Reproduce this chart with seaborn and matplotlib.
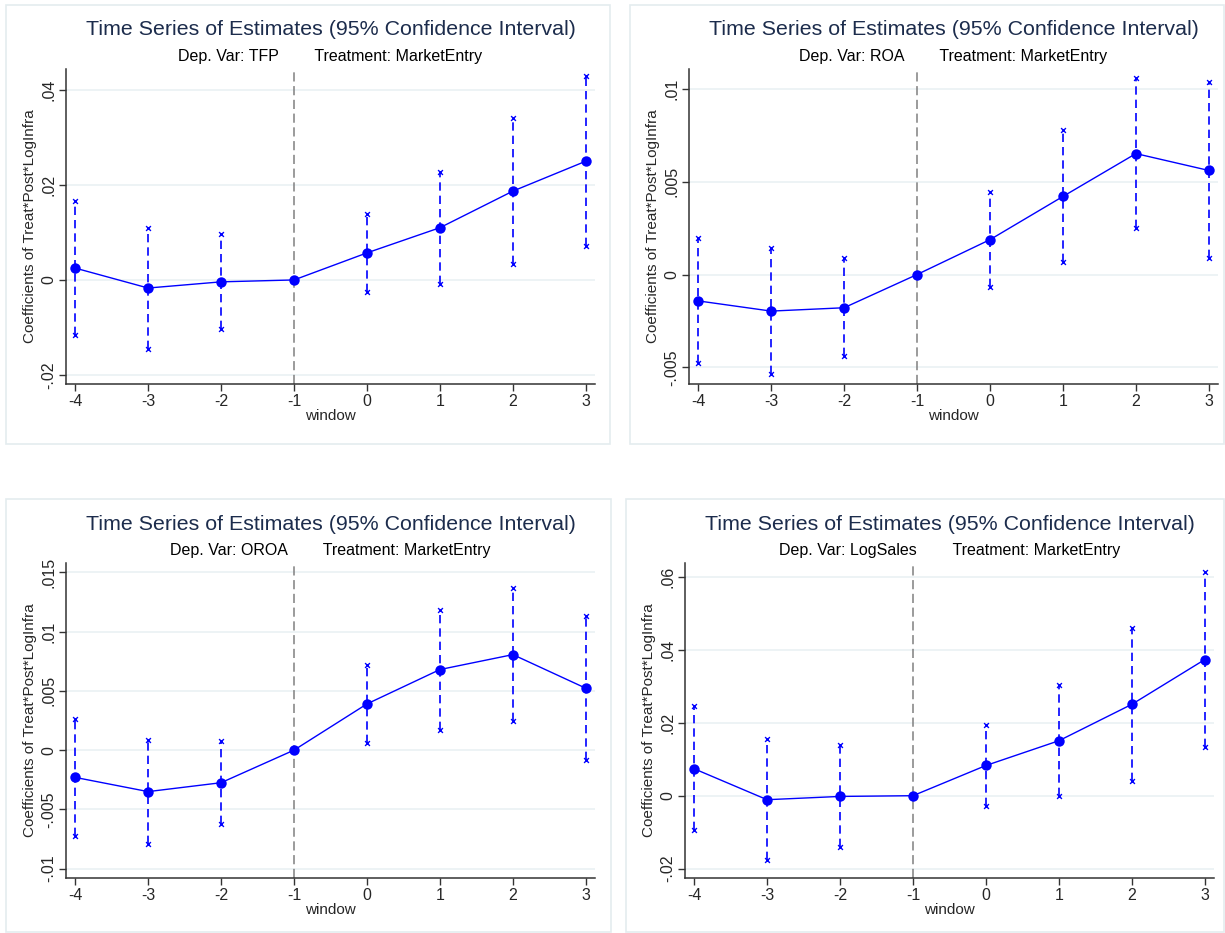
import numpy as np
import pandas as pd
import matplotlib.pyplot as plt
import matplotlib.patches as mpatches
from matplotlib.ticker import FuncFormatter
import seaborn as sns

# ── Data ─────────────────────────────────────────────────────────────────────
windows = [-4, -3, -2, -1, 0, 1, 2, 3]

tfp_coef = [0.0025, -0.0017, -0.0004, 0.0, 0.0057, 0.0110, 0.0187, 0.0250]
tfp_lo = [-0.0116, -0.0145, -0.0104, 0.0, -0.0025, -0.0008, 0.0033, 0.0072]
tfp_hi = [0.0167, 0.0110, 0.0097, 0.0, 0.0139, 0.0228, 0.0341, 0.0429]

roa_coef = [-0.00142, -0.00197, -0.00179, 0.0, 0.00188, 0.00421, 0.00652, 0.00561]
roa_lo = [-0.00478, -0.00536, -0.00441, 0.0, -0.00068, 0.00065, 0.00251, 0.00088]
roa_hi = [0.00197, 0.00145, 0.00088, 0.0, 0.00444, 0.00778, 0.01057, 0.01040]

oroa_coef = [-0.0023, -0.0035, -0.00275, 0.0, 0.0039, 0.0068, 0.00806, 0.00522]
oroa_lo = [-0.00722, -0.0079, -0.00624, 0.0, 0.00062, 0.00174, 0.00244, -0.00084]
oroa_hi = [0.00264, 0.00087, 0.00076, 0.0, 0.00722, 0.01185, 0.01365, 0.01132]

sales_coef = [0.0074, -0.0011, -0.0002, 0.0, 0.0083, 0.0151, 0.0251, 0.0374]
sales_lo = [-0.0094, -0.0176, -0.0141, 0.0, -0.0027, -0.0001, 0.0041, 0.0135]
sales_hi = [0.0245, 0.0156, 0.0138, 0.0, 0.0193, 0.0305, 0.0461, 0.0615]

dep_vars = ["TFP", "ROA", "OROA", "LogSales"]
y_ticks = [
    [-0.02, 0, 0.02, 0.04],
    [-0.005, 0, 0.005, 0.01],
    [-0.01, -0.005, 0, 0.005, 0.01, 0.015],
    [-0.02, 0, 0.02, 0.04, 0.06],
]
y_limits = [(-0.0219, 0.0444), (-0.0059, 0.01108), (-0.01079, 0.01579), (-0.0226, 0.0639)]

# ── Style ────────────────────────────────────────────────────────────────────
sns.set_theme(style="white")
plt.rcParams["font.family"] = ["Liberation Sans", "DejaVu Sans"]
plt.rcParams["axes.unicode_minus"] = False

W, H = 1225, 933
BLUE = "#0000FF"
TITLE_COLOR = "#1C2C4C"
GRID_COLOR = "#EAF1F3"
BORDER_COLOR = "#E4ECEF"

fig = plt.figure(figsize=(W / 100, H / 100), dpi=100)


def px_rect(l, t, r, b):
    return [l / W, 1 - b / H, (r - l) / W, (b - t) / H]


# panel borders (l, t, r, b) and axes boxes in pixels
borders = [(6, 5, 610, 444), (630, 5, 1224, 444), (6, 499, 611, 932), (626, 499, 1224, 932)]
boxes = [(66, 69, 595, 384), (689, 69, 1218, 384), (66, 563, 595, 878), (685, 563, 1214, 878)]

series = [
    (tfp_coef, tfp_lo, tfp_hi),
    (roa_coef, roa_lo, roa_hi),
    (oroa_coef, oroa_lo, oroa_hi),
    (sales_coef, sales_lo, sales_hi),
]


def fmt_stata(v, _):
    if abs(v) < 1e-12:
        return "0"
    s = f"{v:.3f}".rstrip("0")
    return s.replace("0.", ".")


for border, box, (coef, lo, hi), dv, yt, yl in zip(borders, boxes, series, dep_vars, y_ticks, y_limits):
    l, t, r, b = border
    fig.patches.append(mpatches.Rectangle((l / W, 1 - b / H), (r - l) / W, (b - t) / H,
                                          transform=fig.transFigure, fill=False,
                                          edgecolor=BORDER_COLOR, linewidth=1.2))

    ax = fig.add_axes(px_rect(*box))
    df = pd.DataFrame({"window": windows, "coef": coef, "lo": lo, "hi": hi})

    for yv in yt:
        ax.axhline(yv, color=GRID_COLOR, linewidth=1.2, zorder=0)
    ax.axvline(-1, color="#808080", linestyle=(0, (6, 3)), linewidth=1.1, zorder=1)

    ci = df[df["window"] != -1]
    ax.vlines(ci["window"], ci["lo"], ci["hi"], color=BLUE, linestyle=(0, (5, 3)),
              linewidth=1.2, zorder=2)
    sns.scatterplot(x=np.concatenate([ci["window"], ci["window"]]),
                    y=np.concatenate([ci["lo"], ci["hi"]]),
                    marker="x", s=12, color=BLUE, linewidth=1.0, ax=ax, zorder=3)
    sns.lineplot(data=df, x="window", y="coef", color=BLUE, linewidth=1.0,
                 marker="o", markersize=7.5, markeredgewidth=0, ax=ax, zorder=4)

    ax.set_xlim(-4.125, 3.125)
    ax.set_ylim(*yl)
    ax.set_xticks(windows)
    ax.set_yticks(yt)
    ax.yaxis.set_major_formatter(FuncFormatter(fmt_stata))
    ax.tick_params(axis="both", direction="out", length=5, width=1, color="#333333",
                   labelsize=11.5, pad=2, left=True, bottom=True)
    plt.setp(ax.get_yticklabels(), rotation=90, va="center")

    for side in ["top", "right"]:
        ax.spines[side].set_visible(False)
    for side in ["left", "bottom"]:
        ax.spines[side].set_color("#333333")
        ax.spines[side].set_linewidth(1.1)

    ax.set_xlabel("window", fontsize=11, labelpad=0)
    ax.set_ylabel("Coefficients of Treat*Post*LogInfra", fontsize=11, labelpad=3)

    ax.text(0.5, 1 + 39 / 315, "Time Series of Estimates (95% Confidence Interval)",
            transform=ax.transAxes, ha="center", va="center", fontsize=15.4, color=TITLE_COLOR)
    ax.text(0.5, 1 + 12 / 315, f"Dep. Var: {dv}        Treatment: MarketEntry",
            transform=ax.transAxes, ha="center", va="center", fontsize=11.5, color="black")

plt.savefig("out.png", dpi=100)
